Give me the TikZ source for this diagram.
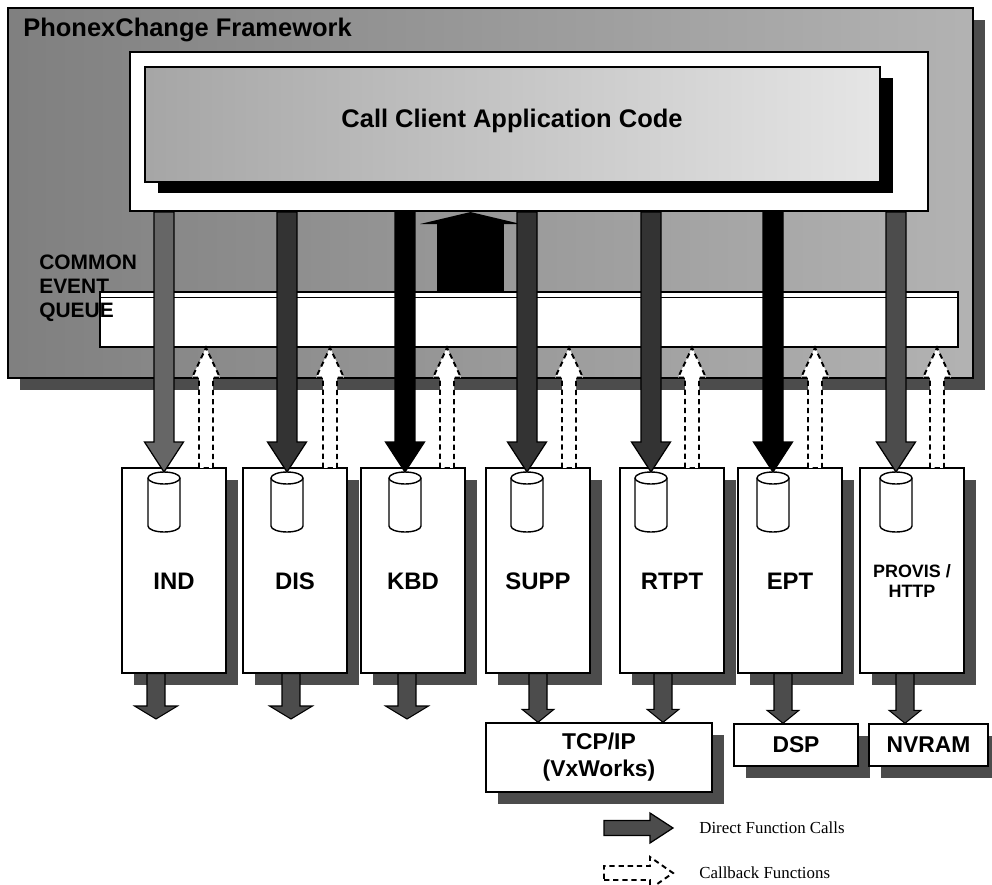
\documentclass[tikz,border=0pt]{standalone}
\usepackage{fontspec}
\setmainfont{Liberation Serif}
\setsansfont{Liberation Sans}
\usetikzlibrary{calc,shadows}

\begin{document}
\begin{tikzpicture}[x=0.02cm,y=-0.02cm,
  box/.style={draw=black,line width=0.8pt,fill=white,inner sep=0pt},
  dropped/.style={drop shadow={shadow xshift=0.24cm,shadow yshift=-0.24cm,fill=black!70,opacity=1}},
  module/.style={box,dropped,minimum width=2.08cm,minimum height=4.1cm},
  cylline/.style={draw=black,line width=0.8pt,fill=white},
  titletext/.style={font=\sffamily\bfseries\fontsize{14.5}{17}\selectfont,inner sep=0pt},
  qtext/.style={font=\sffamily\bfseries\fontsize{11.9}{13.6}\selectfont,align=left,inner sep=0pt},
  modtext/.style={font=\sffamily\bfseries\fontsize{13.6}{16}\selectfont,inner sep=0pt},
  smalltext/.style={font=\sffamily\bfseries\fontsize{10.2}{11.9}\selectfont,align=center,inner sep=0pt},
  boxtext/.style={font=\sffamily\bfseries\fontsize{13}{15.3}\selectfont,align=center},
  legtext/.style={font=\rmfamily\fontsize{9.6}{11}\selectfont,inner sep=0pt},
  block/.style n args={3}{to path={let \p1=(\tikztostart),\p2=(\tikztotarget),
      \p3=($(\tikztotarget)!#3!(\tikztostart)$) in
      (\x1-#1,\y1) -- (\x1-#1,\y3) -- (\x1-#2,\y3) -- (\x1,\y2)
      -- (\x1+#2,\y3) -- (\x1+#1,\y3) -- (\x1+#1,\y1) -- cycle}},
  hblock/.style n args={3}{to path={let \p1=(\tikztostart),\p2=(\tikztotarget),
      \p3=($(\tikztotarget)!#3!(\tikztostart)$) in
      (\x1,\y1-#1) -- (\x3,\y1-#1) -- (\x3,\y1-#2) -- (\x2,\y1)
      -- (\x3,\y1+#2) -- (\x3,\y1+#1) -- (\x1,\y1+#1) -- cycle}},
  direct/.style={block={0.2cm}{0.39cm}{0.6cm},draw=black,line width=0.7pt,fill=black!75},
  callback/.style={block={0.14cm}{0.28cm}{0.6cm},draw=black,line width=1.1pt,fill=white,dash pattern=on 3pt off 2.2pt},
  outarrow/.style={block={0.18cm}{#1}{0.26cm},draw=black,line width=0.6pt,fill=black!70},
]
\path[use as bounding box,fill=white] (0,0) rectangle (992,885);

% framework
\node[dropped,draw=black,line width=1pt,left color=black!50,right color=black!30,
  minimum width=19.3cm,minimum height=7.4cm,inner sep=0pt] (fw) at (490.5,193) {};
\node[titletext,anchor=base west] (fwtitle) at (23,37) {PhonexChange Framework};

% application code
\node[box,line width=1.2pt,minimum width=15.96cm,minimum height=3.18cm] (app) at (529,131.5) {};
\node[draw=black,line width=1pt,left color=black!35,right color=black!10,inner sep=0pt,
  minimum width=14.7cm,minimum height=2.3cm,
  drop shadow={shadow xshift=0.26cm,shadow yshift=-0.22cm,fill=black,opacity=1}] (code) at (512.5,124.5) {};
\node[titletext,anchor=base] (codetext) at (512,128) {Call Client Application Code};

% common event queue
\coordinate (bigx) at (470.5,0);
\node[box,minimum width=17.16cm,minimum height=1.1cm] (queue) at (529,319.5) {};
\draw[line width=0.8pt] ([yshift=-0.12cm]queue.north west) -- ([yshift=-0.12cm]queue.north east);
\path[block={0.67cm}{1.01cm}{0.24cm},fill=black] (queue.north -| bigx) to (app.south -| bigx);
\node[qtext,anchor=north west] (qlabel) at (39,255) {COMMON\\EVENT\\QUEUE};

% modules
\foreach \name/\lx/\ax/\cx/\tstyle/\txt in {ind/122/164/206/modtext/IND,
    dis/243/287/330/modtext/DIS, kbd/361/405/447/modtext/KBD,
    supp/486/527/569/modtext/SUPP, rtpt/620/651/692/modtext/RTPT,
    ept/738/773/815/modtext/EPT, prov/860/896/937/smalltext/{PROVIS /\\HTTP}}{
  \node[module] (\name) at (\lx+52,570.5) {};
  \draw[cylline] (\ax-16,478) -- (\ax-16,526)
    arc[start angle=180,end angle=360,x radius=0.32cm,y radius=0.12cm] -- (\ax+16,478)
    arc[start angle=0,end angle=180,x radius=0.32cm,y radius=0.12cm] -- cycle;
  \draw[line width=0.8pt] (\ax-16,478) arc[start angle=180,end angle=360,x radius=0.32cm,y radius=0.12cm];
  \coordinate (\name c) at (\ax,472);
  \node[\tstyle] (\name t) at ([yshift=-0.21cm]\name.center) {\txt};
  \coordinate (\name cb) at (\cx,468);
}

% lower layer
\node[box,dropped,boxtext,minimum width=4.52cm,minimum height=1.38cm] (tcp) at (599,757.5) {TCP/IP\\(VxWorks)};
\node[box,dropped,boxtext,minimum width=2.48cm,minimum height=0.84cm] (dsp) at (796,745) {DSP};
\node[box,dropped,boxtext,minimum width=2.38cm,minimum height=0.84cm] (nvram) at (928.5,745) {NVRAM};

\foreach \name/\bx in {ind/156,dis/291,kbd/407}{
  \coordinate (\name out) at (\bx,719);
  \draw[outarrow=0.43cm] (\name.south -| \name out) to (\name out);
}
\foreach \name/\bx/\tgt in {supp/538/tcp,rtpt/663/tcp,ept/783/dsp,prov/905/nvram}{
  \coordinate (\name out) at (\bx,0);
  \draw[outarrow=0.32cm] (\name.south -| \name out) to (\tgt.north -| \name out);
}

% direct calls and callbacks
\foreach \name/\shd in {ind/black!60,dis/black!80,kbd/black,supp/black!80,
    rtpt/black!80,ept/black,prov/black!70}
  \draw[direct,fill=\shd] (app.south -| \name c) to (\name c);
\foreach \name in {ind,dis,kbd,supp,rtpt,ept,prov}
  \draw[callback] (\name cb) to (queue.south -| \name cb);

% legend
\node[legtext,anchor=west] (lgdirect) at (699,828) {Direct Function Calls};
\node[legtext,anchor=west] (lgcall) at (699,873) {Callback Functions};
\coordinate (lgd) at (604,828);
\coordinate (lgc) at (604,873);
\draw[hblock={0.15cm}{0.3cm}{0.46cm},draw=black,line width=0.7pt,fill=black!70] (lgd) to ([xshift=-0.52cm]lgdirect.west);
\draw[hblock={0.14cm}{0.32cm}{0.46cm},draw=black,line width=1.1pt,fill=white,dash pattern=on 3pt off 2.2pt] (lgc) to ([xshift=-0.52cm]lgcall.west);
\end{tikzpicture}
\end{document}
